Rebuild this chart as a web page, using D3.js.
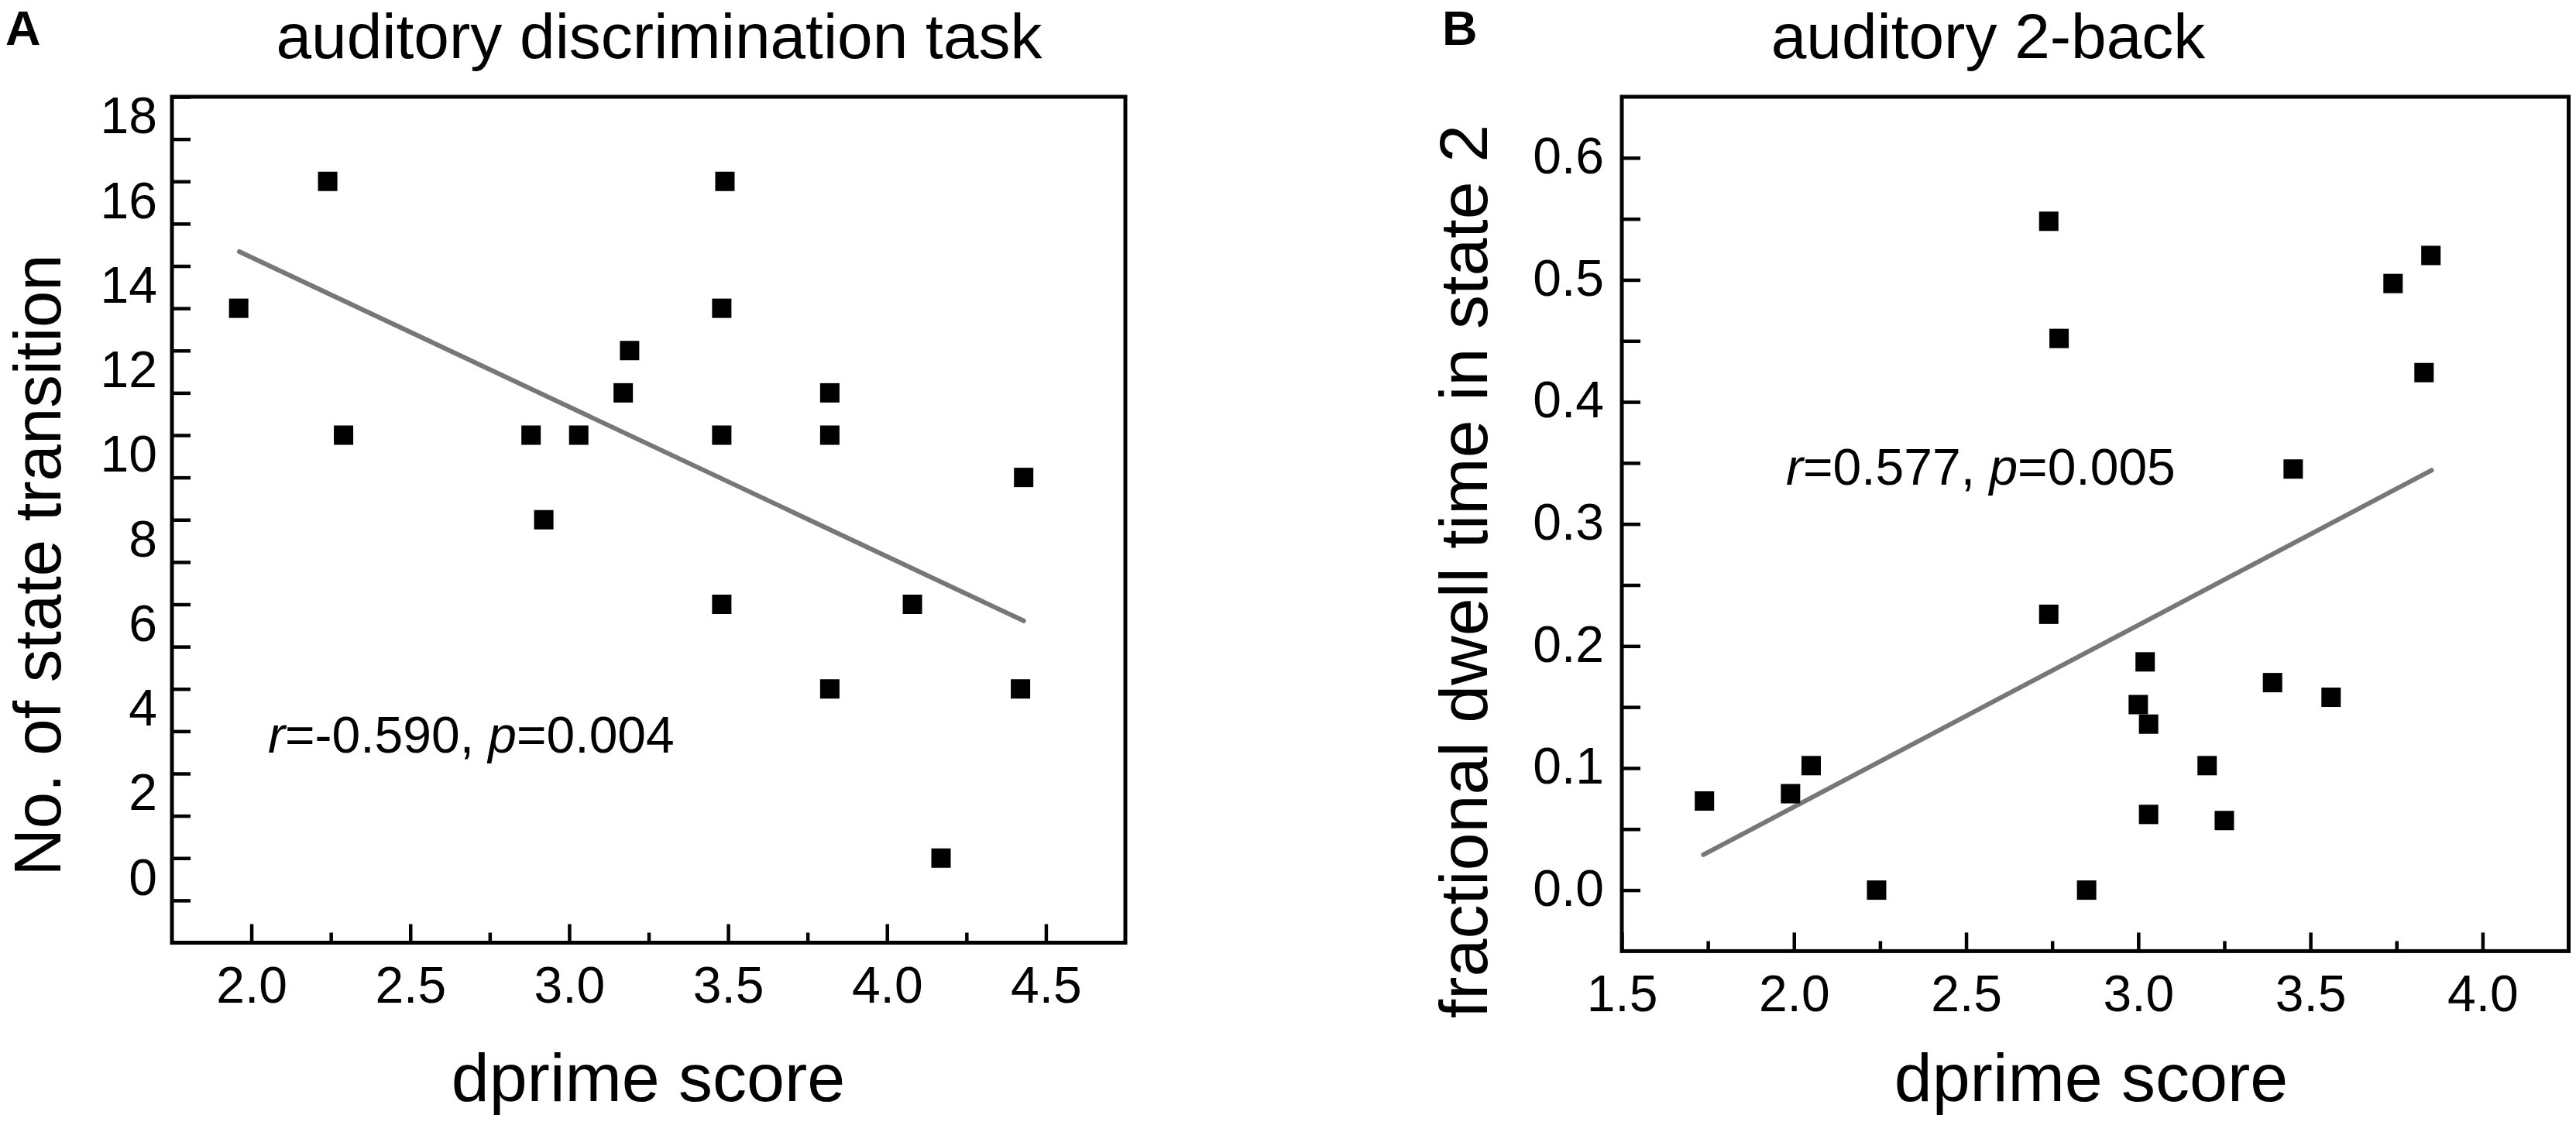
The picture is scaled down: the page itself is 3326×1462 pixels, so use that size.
<!DOCTYPE html>
<html>
<head>
<meta charset="utf-8">
<script src="https://cdn.jsdelivr.net/npm/d3@7"></script>
<style>
html, body { margin: 0; padding: 0; background: #fff; }
svg { display: block; }
</style>
</head>
<body>
<script>
// ---------- Panel A: auditory discrimination task ----------
const dprimeA      = [1.96, 2.24, 2.29, 2.88, 2.92, 3.03, 3.17, 3.19, 3.48, 3.48, 3.48, 3.49, 3.82, 3.82, 3.82, 4.08, 4.17, 4.43, 4.42];
const transitionsA = [13,   16,   10,   10,   8,    10,   11,   12,   13,   10,   6,    16,   11,   10,   4,    6,    0,    9,    4];
const fitXA = [1.962, 4.43];
const fitYA = [14.34, 5.61];
const xMajorA = [2.0, 2.5, 3.0, 3.5, 4.0, 4.5];
const xMinorA = [2.25, 2.75, 3.25, 3.75, 4.25];
const yTicksA = [-1, 0, 1, 2, 3, 4, 5, 6, 7, 8, 9, 10, 11, 12, 13, 14, 15, 16, 17, 18];
const yLabelsA = [0, 2, 4, 6, 8, 10, 12, 14, 16, 18];
const titleA = "auditory discrimination task";
const yTitleA = "No. of state transition";
const statA = { r: "-0.590", p: "0.004" };

// ---------- Panel B: auditory 2-back ----------
const dprimeB = [1.74, 1.99, 2.05, 2.24, 2.74, 2.77, 2.74, 2.85, 3.00, 3.02, 3.03, 3.03, 3.20, 3.25, 3.39, 3.56, 3.45, 3.74, 3.85, 3.83];
const dwellB  = [0.073, 0.079, 0.102, 0.0, 0.548, 0.452, 0.226, 0.0, 0.152, 0.187, 0.136, 0.062, 0.102, 0.057, 0.170, 0.158, 0.345, 0.497, 0.520, 0.424];
const fitXB = [1.737, 3.852];
const fitYB = [0.029, 0.344];
const xMajorB = [1.5, 2.0, 2.5, 3.0, 3.5, 4.0];
const xMinorB = [1.75, 2.25, 2.75, 3.25, 3.75];
const yTicksB = [0, 0.05, 0.1, 0.15, 0.2, 0.25, 0.3, 0.35, 0.4, 0.45, 0.5, 0.55, 0.6];
const yLabelsB = [0, 0.1, 0.2, 0.3, 0.4, 0.5, 0.6];
const titleB = "auditory 2-back";
const yTitleB = "fractional dwell time in state 2";
const statB = { r: "0.577", p: "0.005" };

const xTitle = "dprime score";

// ---------- drawing ----------
const W = 3326, H = 1462;
const FONT = "'Liberation Sans', Arial, Helvetica, sans-serif";
const svg = d3.select("body").append("svg")
  .attr("width", W).attr("height", H)
  .attr("font-family", FONT);
svg.append("rect").attr("width", W).attr("height", H).attr("fill", "#fff");

function drawPanel(p) {
  const g = svg.append("g");
  const x = d3.scaleLinear().domain(p.xDomain).range([p.left, p.right]);
  const y = d3.scaleLinear().domain(p.yDomain).range([p.bottom, p.top]);

  // x major ticks + labels
  const gx = g.append("g").attr("transform", `translate(0,${p.bottom})`)
    .call(d3.axisBottom(x).tickValues(p.xMajor).tickFormat(d3.format(".1f"))
      .tickSize(-24).tickSizeOuter(0).tickPadding(31));
  gx.select(".domain").remove();
  gx.selectAll("line").attr("stroke", "#000").attr("stroke-width", 4.5);
  gx.selectAll("text").attr("font-size", 66).attr("font-family", FONT).attr("fill", "#000");

  // x minor ticks
  const gxm = g.append("g").attr("transform", `translate(0,${p.bottom})`)
    .call(d3.axisBottom(x).tickValues(p.xMinor).tickFormat("")
      .tickSize(-13).tickSizeOuter(0));
  gxm.select(".domain").remove();
  gxm.selectAll("line").attr("stroke", "#000").attr("stroke-width", 4.5);

  // y ticks + labels
  const gy = g.append("g").attr("transform", `translate(${p.left},0)`)
    .call(d3.axisLeft(y).tickValues(p.yTicks)
      .tickFormat(d => p.yLabels.includes(d) ? p.yFormat(d) : "")
      .tickSize(-24).tickSizeOuter(0).tickPadding(p.yPad));
  gy.select(".domain").remove();
  gy.selectAll("line").attr("stroke", "#000").attr("stroke-width", 4.5);
  gy.selectAll("text").attr("font-size", 66).attr("font-family", FONT)
    .attr("fill", "#000").attr("dy", p.yDy);

  // frame
  g.append("rect")
    .attr("x", p.left).attr("y", p.top)
    .attr("width", p.right - p.left).attr("height", p.bottom - p.top)
    .attr("fill", "none").attr("stroke", "#000").attr("stroke-width", 5);

  // regression line
  const line = d3.line().x(d => x(d[0])).y(d => y(d[1]));
  g.append("path").datum(d3.zip(p.fitX, p.fitY))
    .attr("d", line).attr("fill", "none")
    .attr("stroke", "#777").attr("stroke-width", 6).attr("stroke-linecap", "round");

  // points
  const S = 25;
  g.selectAll("rect.pt").data(d3.zip(p.xs, p.ys)).join("rect")
    .attr("class", "pt")
    .attr("x", d => x(d[0]) - S / 2).attr("y", d => y(d[1]) - S / 2)
    .attr("width", S).attr("height", S).attr("fill", "#000");

  // panel letter
  g.append("text").attr("x", p.letterX).attr("y", 58)
    .attr("font-size", 63).attr("font-weight", "bold").text(p.letter);

  // title
  g.append("text").attr("x", p.titleX).attr("y", 75)
    .attr("text-anchor", "middle").attr("font-size", 82).text(p.title);

  // x axis title
  g.append("text").attr("x", p.xTitleX).attr("y", 1422)
    .attr("text-anchor", "middle").attr("font-size", 88).text(xTitle);

  // y axis title
  g.append("text")
    .attr("transform", `translate(${p.yTitleX},${p.yTitleY}) rotate(-90)`)
    .attr("text-anchor", "middle").attr("font-size", p.yTitleSize).text(p.yTitle);

  // statistics
  const st = g.append("text").attr("x", p.statX).attr("y", p.statY).attr("font-size", 66);
  st.append("tspan").attr("font-style", "italic").text("r");
  st.append("tspan").text("=" + p.stat.r + ", ");
  st.append("tspan").attr("font-style", "italic").text("p");
  st.append("tspan").text("=" + p.stat.p);
}

drawPanel({
  xDomain: [1.75, 4.75], yDomain: [-2, 18],
  left: 222, right: 1453, top: 125, bottom: 1217.5,
  xMajor: xMajorA, xMinor: xMinorA, yTicks: yTicksA, yLabels: yLabelsA,
  yFormat: d3.format("d"), yPad: 19, yDy: "0.71em",
  xs: dprimeA, ys: transitionsA, fitX: fitXA, fitY: fitYA,
  letter: "A", letterX: 7, title: titleA, titleX: 851, xTitleX: 837,
  yTitle: yTitleA, yTitleX: 78, yTitleY: 730, yTitleSize: 85,
  stat: statA, statX: 346, statY: 972
});

drawPanel({
  xDomain: [1.5, 4.25], yDomain: [-0.05, 0.65],
  left: 2094, right: 3316.5, top: 125, bottom: 1228.4,
  xMajor: xMajorB, xMinor: xMinorB, yTicks: yTicksB, yLabels: yLabelsB,
  yFormat: d3.format(".1f"), yPad: 23, yDy: "0.30em",
  xs: dprimeB, ys: dwellB, fitX: fitXB, fitY: fitYB,
  letter: "B", letterX: 1862, title: titleB, titleX: 2567, xTitleX: 2700,
  yTitle: yTitleB, yTitleX: 1920, yTitleY: 738, yTitleSize: 88,
  stat: statB, statX: 2306, statY: 626
});
</script>
</body>
</html>
